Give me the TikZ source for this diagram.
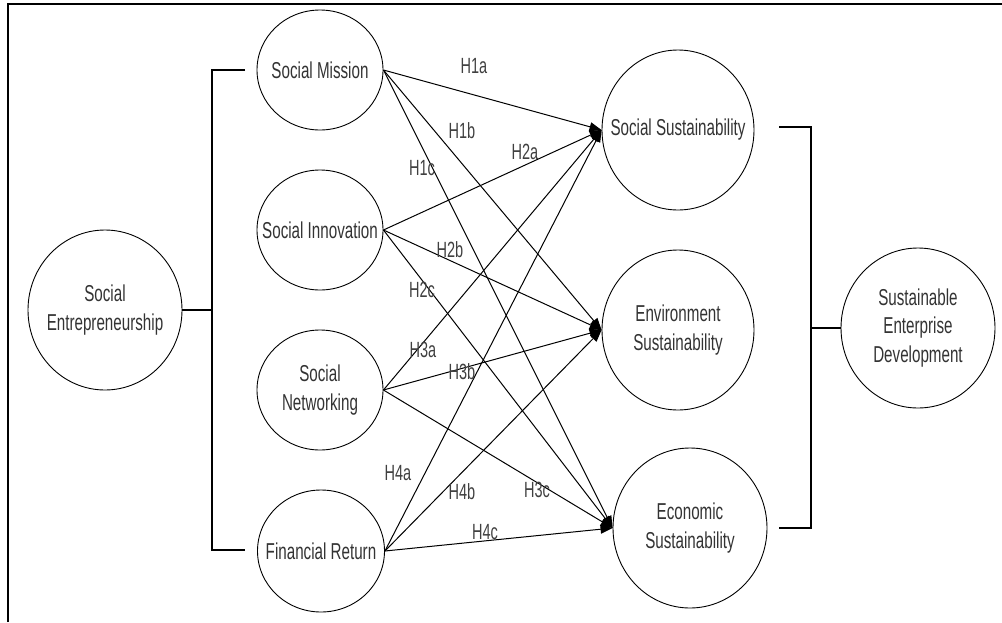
\documentclass[tikz,border=0pt]{standalone}
\usepackage{fontspec}
\usetikzlibrary{shapes.geometric,arrows.meta}
\newfontfamily\diagfont{Liberation Sans}[FakeStretch=0.66]
\begin{document}
\begin{tikzpicture}[x=1pt,y=-1pt,
  ell/.style={draw, ellipse, inner sep=0pt, line width=0.9pt},
  txt/.style={font=\diagfont\fontsize{23}{28.5}\selectfont, align=center, text=black!80},
  arr/.style={-{Triangle[length=12pt,width=9pt]}, line width=1pt},
  brk/.style={line width=2.4pt},
  hyp/.style={font=\diagfont\fontsize{22}{26}\selectfont, text=black!75, inner sep=0pt}]
\useasboundingbox (0,0) rectangle (1002,622);
% frame
\draw[line width=2.4pt] (8,622) -- (8,4) -- (1002,4);
% nodes
\node[ell, minimum width=126pt, minimum height=120pt, label={[txt]center:Social Mission}] (sm) at (320,70) {};
\node[ell, minimum width=126pt, minimum height=120pt, label={[txt]center:Social Innovation}] (si) at (320,230) {};
\node[ell, minimum width=126pt, minimum height=120pt, label={[txt]center:Social\\Networking}] (sn) at (320,390) {};
\node[ell, minimum width=127pt, minimum height=122pt, label={[txt]center:Financial Return}] (fr) at (321,551) {};
\node[ell, minimum width=154pt, minimum height=160pt, label={[txt]center:Social\\Entrepreneurship}] (se) at (105,310) {};
\node[ell, minimum width=152pt, minimum height=160pt, label={[txt]center:Social Sustainability}] (ss) at (678,130) {};
\node[ell, minimum width=152pt, minimum height=160pt, label={[txt]center:Environment\\Sustainability}] (es) at (678,330) {};
\node[ell, minimum width=154pt, minimum height=160pt, label={[txt]center:Economic\\Sustainability}] (ec) at (690,528) {};
\node[ell, minimum width=154pt, minimum height=160pt, label={[txt]center:Sustainable\\Enterprise\\Development}] (sed) at (918,328) {};
% brackets
\coordinate (lt) at (245,70);
\coordinate (lb) at (245,550);
\coordinate (lm) at (212,310);
\coordinate (rt) at (779,127);
\coordinate (rb) at (779,528);
\coordinate (rm) at (811,328);
\draw[brk] (lt) -- (212,70) -- (212,550) -- (lb);
\draw[brk] (se.east) -- (lm);
\draw[brk] (rt) -- (811,127) -- (811,528) -- (rb);
\draw[brk] (rm) -- (sed.west);
% arrows
\foreach \s in {sm,si,sn,fr}{
  \draw[arr] (\s.east) -- (ss.west);
  \draw[arr] (\s.east) -- (es.west);
  \draw[arr] (\s.east) -- (ec.west);
}
% hypothesis labels
\node[hyp] (h1a) at (474,66) {H1a};
\node[hyp] (h1b) at (462,131) {H1b};
\node[hyp] (h1c) at (422,168) {H1c};
\node[hyp] (h2a) at (525,152) {H2a};
\node[hyp] (h2b) at (450,250) {H2b};
\node[hyp] (h2c) at (422,290) {H2c};
\node[hyp] (h3a) at (423,350) {H3a};
\node[hyp] (h3b) at (462,372) {H3b};
\node[hyp] (h3c) at (537,490) {H3c};
\node[hyp] (h4a) at (398,473) {H4a};
\node[hyp] (h4b) at (462,492) {H4b};
\node[hyp] (h4c) at (485,532) {H4c};
\end{tikzpicture}
\end{document}
